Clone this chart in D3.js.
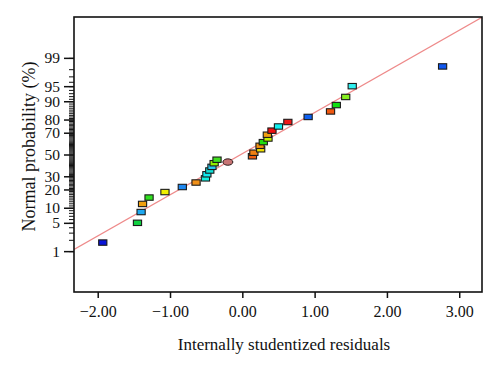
<!DOCTYPE html>
<html>
<head>
<meta charset="utf-8">
<script src="https://cdn.jsdelivr.net/npm/d3@7"></script>
<style>
  html, body { margin: 0; padding: 0; background: #fff; }
  svg { display: block; }
  text { font-family: "Liberation Serif", "DejaVu Serif", serif; fill: #111; }
</style>
</head>
<body>
<svg id="chart" width="500" height="366"></svg>
<script>
// ---- data ----
const residuals = [-1.93, -1.45, -1.40, -1.38, -1.29, -1.07, -0.83, -0.64, -0.51, -0.49,
                   -0.45, -0.42, -0.39, -0.35, 0.14, 0.16, 0.254, 0.245, 0.29, 0.355,
                   0.346, 0.41, 0.50, 0.63, 0.91, 1.22, 1.30, 1.43, 1.52, 2.77];
const probabilities = [1.7, 5.0, 8.3, 11.7, 15.0, 18.3, 21.7, 25.0, 28.3, 31.7,
                       35.0, 38.3, 41.7, 45.0, 48.3, 51.7, 55.0, 58.3, 61.7, 65.0,
                       68.3, 71.7, 75.0, 78.3, 81.7, 85.0, 88.3, 91.7, 95.0, 98.3];
const pointColors = ["#0a14d8", "#10d040", "#1ea8f0", "#f0a010", "#30e020", "#f0f000",
                     "#2088f0", "#f09018", "#10f0e0", "#10e8f0", "#10e0d8", "#28c8f0",
                     "#90f000", "#40e020", "#f06010", "#f08010", "#f0e000", "#f09010",
                     "#20e010", "#c0f000", "#f0a010", "#f01010", "#10f0f0", "#f01818",
                     "#1060f0", "#f05810", "#10e010", "#88f020", "#30f0f0", "#1058f0"];
const highlightPoint = { residual: -0.20, probability: 42.8 };
const fitLine = { mean: -0.02, sd: 1.01 };
const xTicks = [-2, -1, 0, 1, 2, 3];
const yMajorTicks = [1, 5, 10, 20, 30, 50, 70, 80, 90, 95, 99];
const yMinorTicks = d3.range(1, 100);
const xDomain = [-2.328, 3.315];
const zDomain = [-3.31, 3.31];

// inverse normal CDF (probit), Acklam's approximation
function probit(p) {
  const a = [-3.969683028665376e+01, 2.209460984245205e+02, -2.759285104469687e+02, 1.383577518672690e+02, -3.066479806614716e+01, 2.506628277459239e+00];
  const b = [-5.447609879822406e+01, 1.615858368580409e+02, -1.556989798598866e+02, 6.680131188771972e+01, -1.328068155288572e+01];
  const c = [-7.784894002430293e-03, -3.223964580411365e-01, -2.400758277161838e+00, -2.549732539343734e+00, 4.374664141464968e+00, 2.938163982698783e+00];
  const d = [7.784695709041462e-03, 3.224671290700398e-01, 2.445134137142996e+00, 3.754408661907416e+00];
  const pl = 0.02425, ph = 1 - pl;
  let q, r;
  if (p < pl) {
    q = Math.sqrt(-2 * Math.log(p));
    return (((((c[0]*q+c[1])*q+c[2])*q+c[3])*q+c[4])*q+c[5]) / ((((d[0]*q+d[1])*q+d[2])*q+d[3])*q+1);
  }
  if (p > ph) {
    q = Math.sqrt(-2 * Math.log(1 - p));
    return -(((((c[0]*q+c[1])*q+c[2])*q+c[3])*q+c[4])*q+c[5]) / ((((d[0]*q+d[1])*q+d[2])*q+d[3])*q+1);
  }
  q = p - 0.5; r = q * q;
  return (((((a[0]*r+a[1])*r+a[2])*r+a[3])*r+a[4])*r+a[5])*q / (((((b[0]*r+b[1])*r+b[2])*r+b[3])*r+b[4])*r+1);
}

// ---- layout ----
const plot = { left: 74, right: 482, top: 17, bottom: 292 };
const svg = d3.select("#chart");

const x = d3.scaleLinear().domain(xDomain).range([plot.left, plot.right]);
const yz = d3.scaleLinear().domain(zDomain).range([plot.bottom, plot.top]);
const yp = p => yz(probit(p / 100));

// clip
svg.append("defs").append("clipPath").attr("id", "clip")
  .append("rect").attr("x", plot.left).attr("y", plot.top)
  .attr("width", plot.right - plot.left).attr("height", plot.bottom - plot.top);

// fit line
const lineData = xDomain.map(v => ({ x: v, z: (v - fitLine.mean) / fitLine.sd }));
svg.append("path")
  .datum(lineData)
  .attr("clip-path", "url(#clip)")
  .attr("fill", "none")
  .attr("stroke", "#ee8a8a")
  .attr("stroke-width", 1.3)
  .attr("d", d3.line().x(d => x(d.x)).y(d => yz(d.z)));

// points
const pts = residuals.map((r, i) => ({ r, p: probabilities[i], c: pointColors[i] }));
const rw = 8.2, rh = 5.4;
svg.append("g").selectAll("rect").data(pts).join("rect")
  .attr("x", d => x(d.r) - rw / 2)
  .attr("y", d => yp(d.p) - rh / 2)
  .attr("width", rw).attr("height", rh)
  .attr("fill", d => d.c)
  .attr("stroke", "#1a1a1a")
  .attr("stroke-width", 1.1);

svg.append("ellipse")
  .attr("cx", x(highlightPoint.residual))
  .attr("cy", yp(highlightPoint.probability))
  .attr("rx", 5).attr("ry", 3.2)
  .attr("fill", "#c87474")
  .attr("stroke", "#2a1a1a")
  .attr("stroke-width", 1);

// frame
svg.append("rect")
  .attr("x", plot.left).attr("y", plot.top)
  .attr("width", plot.right - plot.left).attr("height", plot.bottom - plot.top)
  .attr("fill", "none").attr("stroke", "#111").attr("stroke-width", 1.6);

// x axis
const fmt = d3.format(".2f");
const xAxis = svg.append("g")
  .attr("transform", `translate(0,${plot.bottom})`)
  .call(d3.axisBottom(x).tickValues(xTicks).tickSize(6).tickSizeOuter(0)
        .tickFormat(d => fmt(d).replace("-", "\u2212")));
xAxis.select(".domain").remove();
xAxis.selectAll(".tick line").attr("stroke", "#111").attr("stroke-width", 1.5);
xAxis.selectAll(".tick text").attr("font-size", 16).attr("dy", "0.71em").attr("y", 14);

// y axis minor
const yMinor = svg.append("g")
  .attr("transform", `translate(${plot.left},0)`)
  .call(d3.axisLeft(yz).tickValues(yMinorTicks.map(p => probit(p / 100))).tickSize(5).tickSizeOuter(0).tickFormat(""));
yMinor.select(".domain").remove();
yMinor.selectAll(".tick line").attr("stroke", "#111").attr("stroke-width", 1);

// y axis major
const yMajor = svg.append("g")
  .attr("transform", `translate(${plot.left},0)`)
  .call(d3.axisLeft(yz).tickValues(yMajorTicks.map(p => probit(p / 100))).tickSize(10).tickSizeOuter(0)
        .tickFormat((d, i) => String(yMajorTicks[i])));
yMajor.select(".domain").remove();
yMajor.selectAll(".tick line").attr("stroke", "#111").attr("stroke-width", 1.5);
yMajor.selectAll(".tick text").attr("font-size", 15.5).attr("x", -14);

// axis titles
svg.append("text")
  .attr("x", (plot.left + plot.right) / 2 + 6)
  .attr("y", 350)
  .attr("text-anchor", "middle")
  .attr("font-size", 17)
  .text("Internally studentized residuals");

svg.append("text")
  .attr("transform", `translate(35,${(plot.top + plot.bottom) / 2 - 8}) rotate(-90)`)
  .attr("text-anchor", "middle")
  .attr("font-size", 18)
  .text("Normal probability (%)");
</script>
</body>
</html>
